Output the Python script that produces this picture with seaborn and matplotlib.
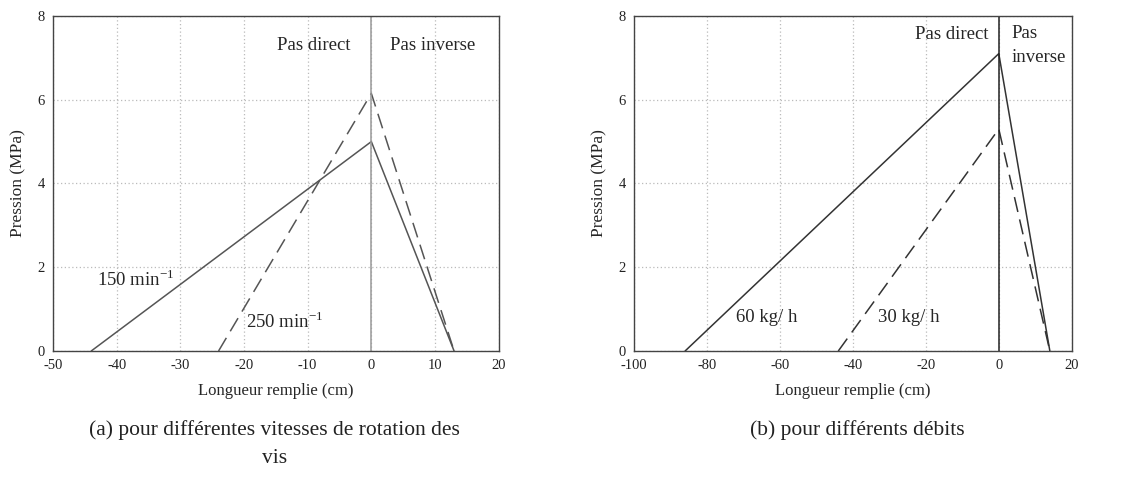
import pandas as pd
import matplotlib.pyplot as plt
import seaborn as sns

# Left panel: screw speeds
x_left = [-44, 0, 13]
p_150 = [0, 5.0, 0]
x_left_250 = [-24, 0, 13]
p_250 = [0, 6.15, 0]

# Right panel: throughputs
x_60 = [-86, 0, 14]
p_60 = [0, 7.1, 0]
x_30 = [-44, 0, 14]
p_30 = [0, 5.3, 0]

left_ticks = [-50, -40, -30, -20, -10, 0, 10, 20]
right_ticks = [-100, -80, -60, -40, -20, 0, 20]
y_ticks = [0, 2, 4, 6, 8]

sns.set_style("white")
plt.rcParams['font.family'] = ['Liberation Serif', 'DejaVu Serif']

fig = plt.figure(figsize=(11.31, 4.92), dpi=100)
ax1 = fig.add_axes([0.0469, 0.2866, 0.394, 0.681])
ax2 = fig.add_axes([0.5606, 0.2866, 0.387, 0.681])

grey = "#555555"

df_l = pd.DataFrame({"x": x_left + x_left_250, "p": p_150 + p_250,
                     "s": ["150"] * 3 + ["250"] * 3})
df_r = pd.DataFrame({"x": x_60 + x_30, "p": p_60 + p_30,
                     "s": ["60"] * 3 + ["30"] * 3})

sns.lineplot(data=df_l, x="x", y="p", style="s", sort=False, color=grey,
             dashes={"150": "", "250": (10, 5)}, lw=1.1, legend=False, ax=ax1)
sns.lineplot(data=df_r, x="x", y="p", style="s", sort=False, color="#333333",
             dashes={"60": "", "30": (10, 5)}, lw=1.1, legend=False, ax=ax2)

for ax, ticks, vcol in [(ax1, left_ticks, "#999999"), (ax2, right_ticks, "#222222")]:
    ax.set_xlim(ticks[0], ticks[-1])
    ax.set_ylim(0, 8)
    ax.set_xticks(ticks)
    ax.set_yticks(y_ticks)
    ax.set_xticklabels([str(t) for t in ticks], fontsize=10.5)
    ax.set_yticklabels([str(t) for t in y_ticks], fontsize=10.5)
    ax.grid(True, ls=(0, (1, 2)), color="#bbbbbb", lw=0.9)
    ax.axvline(0, color=vcol, lw=1.1)
    for sp in ax.spines.values():
        sp.set_color("#444444")
        sp.set_linewidth(1.0)
    ax.tick_params(axis="both", direction="in", length=3, colors="#222222", pad=6)
    ax.set_xlabel("Longueur remplie (cm)", fontsize=12, labelpad=8)
    ax.set_ylabel("Pression (MPa)", fontsize=12.5, labelpad=8)

fs = 13.5
ax1.text(-9, 7.3, "Pas direct", ha="center", va="center", fontsize=fs)
ax1.text(9.6, 7.3, "Pas inverse", ha="center", va="center", fontsize=fs)
ax1.text(-37, 1.7, "150 min$^{\\mathregular{-1}}$", ha="center", va="center", fontsize=fs)
ax1.text(-13.6, 0.69, "250 min$^{\\mathregular{-1}}$", ha="center", va="center", fontsize=fs)

ax2.text(-13, 7.55, "Pas direct", ha="center", va="center", fontsize=fs)
ax2.text(3.4, 7.3, "Pas\ninverse", ha="left", va="center", fontsize=fs,
         linespacing=1.5)
ax2.text(-63.5, 0.8, "60 kg/ h", ha="center", va="center", fontsize=fs)
ax2.text(-24.7, 0.8, "30 kg/ h", ha="center", va="center", fontsize=fs)

fig.text(0.243, 0.125, "(a) pour différentes vitesses de rotation des",
         ha="center", va="center", fontsize=15.5, color="#222222")
fig.text(0.243, 0.068, "vis", ha="center", va="center", fontsize=15.5, color="#222222")
fig.text(0.758, 0.125, "(b) pour différents débits",
         ha="center", va="center", fontsize=15.5, color="#222222")

fig.savefig("out.png", dpi=100, facecolor="white")
